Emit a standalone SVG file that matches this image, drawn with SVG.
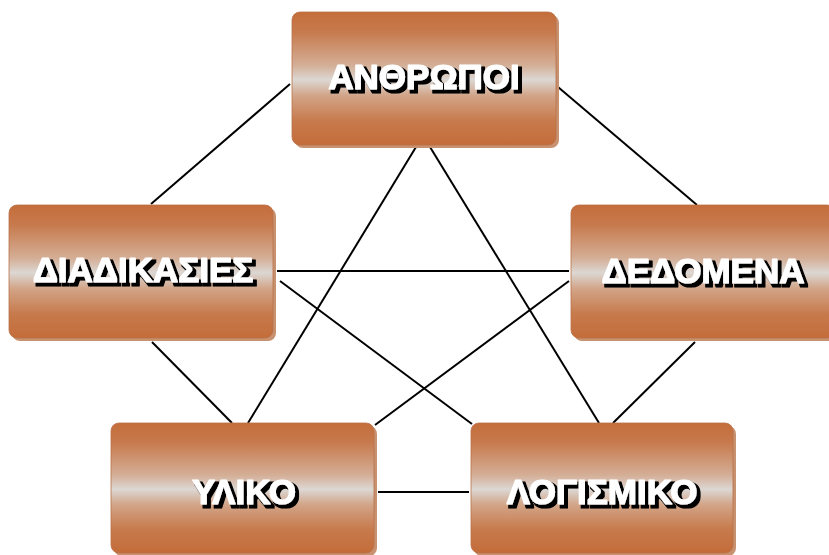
<svg xmlns="http://www.w3.org/2000/svg" width="829" height="555" viewBox="0 0 829 555">
<defs>
<linearGradient id="g" x1="0" y1="0" x2="0" y2="1">
<stop offset="0" stop-color="#C46D3B"/>
<stop offset="0.15" stop-color="#C77A4D"/>
<stop offset="0.4" stop-color="#D4AE96"/>
<stop offset="0.51" stop-color="#DCD7D3"/>
<stop offset="0.55" stop-color="#D8C6BA"/>
<stop offset="0.63" stop-color="#D2A487"/>
<stop offset="0.82" stop-color="#C77A4C"/>
<stop offset="1" stop-color="#C46C3A"/>
</linearGradient>
<filter id="tsh" x="-10%" y="-30%" width="130%" height="170%">
<feMorphology in="SourceAlpha" operator="dilate" radius="0.5" result="d"/>
<feOffset in="d" dx="3" dy="3" result="o"/>
<feFlood flood-color="#000000"/>
<feComposite in2="o" operator="in" result="s"/>
<feMerge><feMergeNode in="s"/><feMergeNode in="SourceGraphic"/></feMerge>
</filter>
</defs>
<style>
.sh{fill:#C8916F;}
.bx{fill:url(#g);stroke:#B9714A;stroke-width:0.8;}
.t{font-family:"Liberation Sans",Arial,sans-serif;font-weight:bold;font-size:35px;text-anchor:middle;fill:#fff;stroke:#fff;stroke-width:1.2px;stroke-linejoin:round;filter:url(#tsh);}
.c{stroke:#000;stroke-width:2;fill:none;}
</style>
<g id="connectors">
<line class="c" x1="290" y1="84" x2="151" y2="204"/>
<line class="c" x1="558" y1="87" x2="697" y2="205"/>
<line class="c" x1="416" y1="147" x2="248" y2="423"/>
<line class="c" x1="430" y1="147" x2="599" y2="423"/>
<line class="c" x1="277" y1="271" x2="569" y2="271"/>
<line class="c" x1="280" y1="281" x2="472" y2="424"/>
<line class="c" x1="569" y1="281" x2="375" y2="425"/>
<line class="c" x1="152" y1="342" x2="232" y2="423"/>
<line class="c" x1="695" y1="342" x2="613" y2="423"/>
<line class="c" x1="378" y1="492" x2="469" y2="492"/>
</g>
<g id="anthropoi">
<rect class="sh" x="295" y="15" width="264" height="133" rx="8"/>
<rect class="bx" x="292" y="12" width="264" height="133" rx="8"/>
<text class="t" x="424" y="89">ΑΝΘΡΩΠΟΙ</text>
</g>
<g id="diadikasies">
<rect class="sh" x="12" y="208" width="264" height="133" rx="8"/>
<rect class="bx" x="9" y="205" width="264" height="133" rx="8"/>
<text class="t" x="143" y="282">ΔΙΑΔΙΚΑΣΙΕΣ</text>
</g>
<g id="dedomena">
<rect class="sh" x="574" y="208" width="264" height="133" rx="8"/>
<rect class="bx" x="571" y="205" width="264" height="133" rx="8"/>
<text class="t" x="703" y="283">ΔΕΔΟΜΕΝΑ</text>
</g>
<g id="yliko">
<rect class="sh" x="114" y="426" width="263" height="130" rx="8"/>
<rect class="bx" x="111" y="423" width="263" height="130" rx="8"/>
<text class="t" x="244" y="504">ΥΛΙΚΟ</text>
</g>
<g id="logismiko">
<rect class="sh" x="474" y="426" width="262" height="130" rx="8"/>
<rect class="bx" x="471" y="423" width="262" height="130" rx="8"/>
<text class="t" x="602" y="504">ΛΟΓΙΣΜΙΚΟ</text>
</g>
</svg>
